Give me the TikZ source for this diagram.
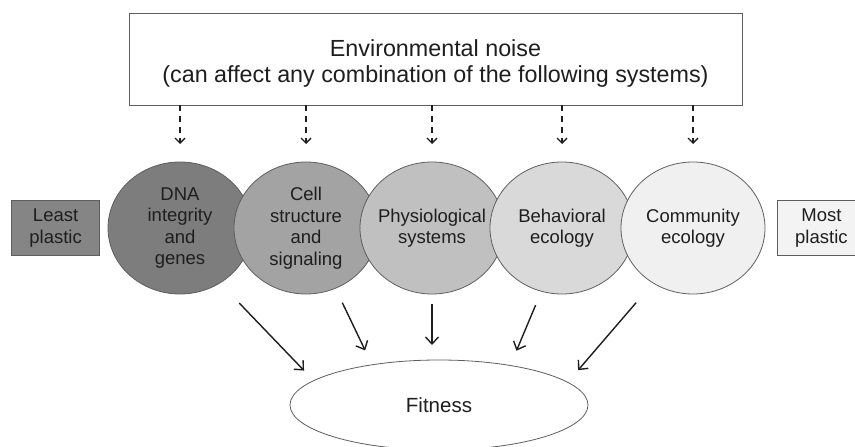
\documentclass[tikz,border=0pt]{standalone}
\usepackage{fontspec}
\setmainfont{Liberation Sans}
\usepackage{tikz}
\usetikzlibrary{positioning,arrows.meta,shapes.geometric}
\usepackage{xcolor}

\definecolor{edgegray}{HTML}{5E5E5E}
\definecolor{txtgray}{HTML}{1E1E1E}
\definecolor{dnafill}{HTML}{7D7D7D}
\definecolor{cellfill}{HTML}{A3A3A3}
\definecolor{physfill}{HTML}{C0C0C0}
\definecolor{behavfill}{HTML}{D9D9D9}
\definecolor{commfill}{HTML}{F0F0F0}
\definecolor{leastfill}{HTML}{858585}
\definecolor{mostfill}{HTML}{F3F3F3}

\begin{document}
\begin{tikzpicture}[
                x=1pt, y=-1pt,
                every node/.style={font=\fontsize{18.5}{21.5}\selectfont, text=txtgray},
                sysnode/.style={ellipse, draw=edgegray, line width=0.8pt, minimum width=144pt, minimum height=132pt, inner sep=-8pt, outer sep=0pt, align=center},
                endbox/.style={draw=edgegray, line width=0.8pt, minimum width=88pt, minimum height=55pt, align=center},
                noisearrow/.style={draw=txtgray, line width=1.3pt, dash pattern=on 6pt off 5pt, -{Straight Barb[length=5pt,width=10pt]}},
                fitarrow/.style={draw=txtgray, line width=1.4pt, -{Straight Barb[length=7pt,width=13pt]}}
            ]
                \useasboundingbox (0,0) rectangle (855,447);

                % Noise box on top
                \node[draw=edgegray, line width=0.8pt, minimum width=613pt, minimum height=92pt] (noise) at (435.5,59) {};
                \node[align=center, font=\fontsize{23.3}{26}\selectfont] (noisetxt) at ([yshift=-4pt]noise.center)
                      {Environmental noise\\(can affect any combination of the following systems)};

                % Systems, least to most plastic
                \node[sysnode, fill=dnafill] (dna) at (180,228) {DNA\\integrity\\and\\genes};
                \node[sysnode, fill=cellfill] (cell) at (306,228) {Cell\\structure\\and\\signaling};
                \node[sysnode, fill=physfill] (phys) at (432,228) {Physiological\\systems};
                \node[sysnode, fill=behavfill] (behav) at (562,228) {Behavioral\\ecology};
                \node[sysnode, fill=commfill] (comm) at (693,228) {Community\\ecology};

                \node[endbox, fill=leastfill, left=8pt of dna] (least) {Least\\plastic};
                \node[endbox, fill=mostfill, right=12pt of comm] (most) {Most\\plastic};

                \foreach \s in {dna,cell,phys,behav,comm}
                    \draw[noisearrow] (noise.south -| \s.north) -- ([yshift=18pt]\s.north);

                % Fitness
                \node[ellipse, draw=edgegray, line width=0.8pt, minimum width=298pt, minimum height=90pt, inner sep=0pt, outer sep=0pt,
                      font=\fontsize{20.5}{24}\selectfont] (fitness) at (439,405) {Fitness};

                \draw[fitarrow, shorten <=28pt, shorten >=14pt] (dna.-54) -- (fitness.169);
                \draw[fitarrow, shorten <=16pt, shorten >=16pt] (cell.-64) -- (fitness.149);
                \draw[fitarrow, shorten <=10pt, shorten >=15pt] (phys.south) -- (phys.south |- fitness.north);
                \draw[fitarrow, shorten <=15pt, shorten >=16pt] (behav.-108) -- (fitness.29);
                \draw[fitarrow, shorten <=26pt, shorten >=16pt] (comm.-126) -- (fitness.10);
            \end{tikzpicture}
\end{document}
